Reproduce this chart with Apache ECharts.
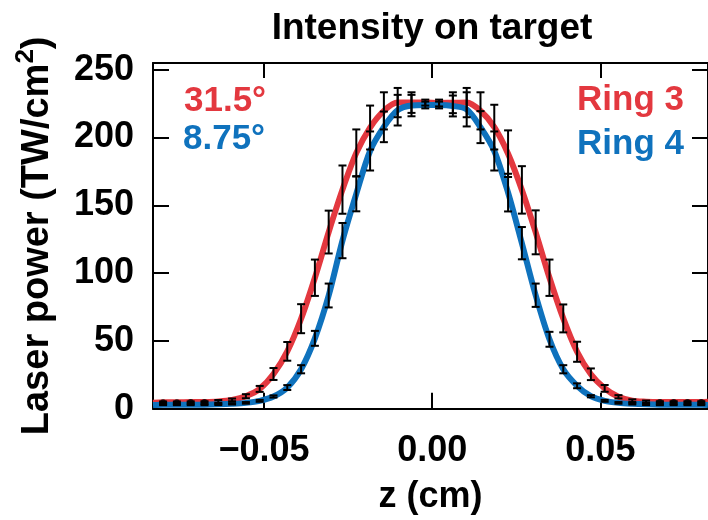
<!DOCTYPE html>
<html>
<head>
<meta charset="utf-8">
<script src="https://cdn.jsdelivr.net/npm/echarts@6/dist/echarts.min.js"></script>
<style>
html,body{margin:0;padding:0;background:#fff;}
#chart{width:708px;height:520px;}
</style>
</head>
<body>
<div id="chart"></div>
<script>
// ---- data ----
const zValues = [-0.08, -0.0759, -0.07179, -0.06769, -0.06359, -0.05949, -0.05538, -0.05128, -0.04718, -0.04308,
  -0.03897, -0.03487, -0.03077, -0.02667, -0.02256, -0.01846, -0.01436, -0.01026, -0.00615, -0.00205,
  0.00205, 0.00615, 0.01026, 0.01436, 0.01846, 0.02256, 0.02667, 0.03077, 0.03487, 0.03897,
  0.04308, 0.04718, 0.05128, 0.05538, 0.05949, 0.06359, 0.06769, 0.07179, 0.0759, 0.08];

const ring3Values = [4.8, 4.8, 4.9, 5.0, 5.4, 6.5, 9.2, 14.6, 25.6, 42.3,
  66.4, 96.6, 130.3, 161.6, 188.7, 207.4, 219.7, 225.8, 225.8, 225.8,
  225.5, 225.7, 225.8, 219.7, 207.7, 188.1, 161.4, 130.1, 96.6, 66.6,
  42.0, 25.4, 15.0, 8.8, 5.9, 5.2, 5.0, 5.0, 5.0, 5.0];
const ring3Errors = [0.5, 0.5, 0.5, 0.5, 1.0, 1.0, 1.5, 2.2, 4.4, 6.9,
  10.7, 13.4, 15.8, 17.8, 17.3, 16.2, 13.7, 10.8, 7.6, 2.2,
  2.5, 7.7, 10.8, 13.7, 16.5, 17.2, 17.5, 16.2, 13.4, 10.3,
  7.4, 4.3, 2.5, 1.2, 1.0, 0.8, 0.5, 0.5, 0.5, 0.5];

const ring4Values = [3.0, 3.0, 3.0, 3.0, 3.2, 3.6, 4.3, 5.8, 9.0, 15.6,
  29.1, 51.9, 83.5, 124.0, 158.5, 190.1, 207.9, 220.2, 223.6, 224.0,
  224.0, 223.3, 220.8, 207.7, 190.1, 159.4, 122.1, 83.7, 51.2, 29.1,
  16.9, 9.2, 5.8, 4.3, 3.6, 3.2, 3.0, 3.0, 3.0, 3.0];
const ring4Errors = [0.4, 0.4, 0.4, 0.4, 0.5, 0.5, 0.6, 0.7, 0.8, 1.8,
  3.0, 5.5, 8.8, 13.0, 12.9, 14.4, 11.3, 11.3, 7.9, 2.5,
  2.5, 7.7, 12.6, 11.8, 14.4, 13.9, 11.9, 8.6, 5.5, 3.0,
  1.8, 0.8, 0.7, 0.6, 0.5, 0.5, 0.4, 0.4, 0.4, 0.4];

// curve end values at the plot edges
const edgeZ = [-0.083, 0.082];
const ring3Edge = [4.4, 5.2];
const ring4Edge = [2.7, 2.7];

// indices of tail points drawn as dots
const tailDotIndex = [0, 1, 2, 3, 36, 37, 38, 39];

const xTicks = [-0.05, 0, 0.05];
const yTicks = [0, 50, 100, 150, 200, 250];

const titleText = 'Intensity on target';
const labels = { r3angle: '31.5°', r4angle: '8.75°', r3: 'Ring 3', r4: 'Ring 4' };

const RED = '#e3383f';
const BLUE = '#0f72bd';
const FONT = '"Liberation Sans", Arial, Helvetica, sans-serif';

// ---- build ----
function curve(vals, edge) {
  const d = [[edgeZ[0], edge[0]]];
  zValues.forEach((z, i) => d.push([z, vals[i]]));
  d.push([edgeZ[1], edge[1]]);
  return d;
}
function errData(vals, errs) {
  return zValues.map((z, i) => [z, vals[i] - errs[i], vals[i] + errs[i]]);
}
function errRender(params, api) {
  const x = api.value(0), lo = api.value(1), hi = api.value(2);
  const p1 = api.coord([x, hi]);
  const p2 = api.coord([x, lo]);
  const hw = 4;
  const st = { stroke: '#000', lineWidth: 2 };
  return {
    type: 'group',
    children: [
      { type: 'line', shape: { x1: p1[0], y1: p1[1], x2: p2[0], y2: p2[1] }, style: st },
      { type: 'line', shape: { x1: p1[0] - hw, y1: p1[1], x2: p1[0] + hw, y2: p1[1] }, style: st },
      { type: 'line', shape: { x1: p2[0] - hw, y1: p2[1], x2: p2[0] + hw, y2: p2[1] }, style: st }
    ]
  };
}
const fmtX = v => {
  if (Math.abs(v) < 1e-9) return '0.00';
  return (v < 0 ? '\u2212' : '') + Math.abs(v).toFixed(2);
};

const chart = echarts.init(document.getElementById('chart'), null, { renderer: 'canvas' });
const axisLineStyle = { color: '#000', width: 2 };
const labelFont = { fontFamily: FONT, fontWeight: 'bold', fontSize: 36, color: '#000' };

chart.setOption({
  animation: false,
  backgroundColor: '#fff',
  grid: { left: 153, top: 63, width: 556, height: 345.7, containLabel: false },
  xAxis: [
    {
      type: 'value', position: 'bottom', min: -0.083, max: 0.082,
      axisLine: { show: true, lineStyle: axisLineStyle, onZero: false },
      axisTick: { show: true, inside: true, length: 16, lineStyle: axisLineStyle, customValues: xTicks },
      axisLabel: Object.assign({ margin: 24, formatter: fmtX, customValues: xTicks }, labelFont),
      splitLine: { show: false },
      name: 'z (cm)', nameLocation: 'middle', nameGap: 70,
      nameTextStyle: { fontFamily: FONT, fontWeight: 'bold', fontSize: 36, color: '#000' }
    },
    {
      type: 'value', position: 'top', min: -0.083, max: 0.082,
      axisLine: { show: true, lineStyle: axisLineStyle, onZero: false },
      axisTick: { show: true, inside: true, length: 15, lineStyle: axisLineStyle, customValues: xTicks },
      axisLabel: { show: false },
      splitLine: { show: false }
    }
  ],
  yAxis: [
    {
      type: 'value', position: 'left', min: 0, max: 255,
      axisLine: { show: true, lineStyle: axisLineStyle, onZero: false },
      axisTick: { show: true, inside: true, length: 16, lineStyle: axisLineStyle, customValues: yTicks },
      axisLabel: Object.assign({ margin: 19, customValues: yTicks }, labelFont),
      splitLine: { show: false },
      name: '{a|Laser power (TW/cm}{s|2}{a|)}', nameLocation: 'middle', nameGap: 96,
      nameTextStyle: {
        rich: {
          a: { fontFamily: FONT, fontWeight: 'bold', fontSize: 38, color: '#000', lineHeight: 44, verticalAlign: 'bottom' },
          s: { fontFamily: FONT, fontWeight: 'bold', fontSize: 26, color: '#000', lineHeight: 44, verticalAlign: 'top', padding: [0, 0, 12, 0] }
        }
      }
    },
    {
      type: 'value', position: 'right', min: 0, max: 255,
      axisLine: { show: true, lineStyle: axisLineStyle, onZero: false },
      axisTick: { show: true, inside: true, length: 16, lineStyle: axisLineStyle, customValues: yTicks },
      axisLabel: { show: false },
      splitLine: { show: false }
    }
  ],
  series: [
    {
      name: 'Ring 3', type: 'line', data: curve(ring3Values, ring3Edge), smooth: 0.3,
      showSymbol: false, lineStyle: { color: RED, width: 6 }, z: 2
    },
    {
      name: 'Ring 4', type: 'line', data: curve(ring4Values, ring4Edge), smooth: 0.3,
      showSymbol: false, lineStyle: { color: BLUE, width: 6 }, z: 3
    },
    {
      name: 'Ring 3 err', type: 'custom', renderItem: errRender, data: errData(ring3Values, ring3Errors),
      encode: { x: 0, y: [1, 2] }, z: 5
    },
    {
      name: 'Ring 4 err', type: 'custom', renderItem: errRender, data: errData(ring4Values, ring4Errors),
      encode: { x: 0, y: [1, 2] }, z: 5
    },
    {
      name: 'tail dots', type: 'scatter', symbol: 'circle', symbolSize: 6,
      itemStyle: { color: '#000' },
      data: tailDotIndex.map(i => [zValues[i], ring3Values[i]]), z: 6
    }
  ],
  graphic: [
    { type: 'text', x: 432, y: 29, style: { text: titleText, font: 'bold 37px ' + FONT, fill: '#000', textAlign: 'center', textVerticalAlign: 'middle' } },
    { type: 'text', x: 184, y: 101, style: { text: labels.r3angle, font: 'bold 35px ' + FONT, fill: RED, textAlign: 'left', textVerticalAlign: 'middle' } },
    { type: 'text', x: 183, y: 139, style: { text: labels.r4angle, font: 'bold 35px ' + FONT, fill: BLUE, textAlign: 'left', textVerticalAlign: 'middle' } },
    { type: 'text', x: 684, y: 100, style: { text: labels.r3, font: 'bold 35px ' + FONT, fill: RED, textAlign: 'right', textVerticalAlign: 'middle' } },
    { type: 'text', x: 684, y: 144, style: { text: labels.r4, font: 'bold 35px ' + FONT, fill: BLUE, textAlign: 'right', textVerticalAlign: 'middle' } }
  ]
});
</script>
</body>
</html>
